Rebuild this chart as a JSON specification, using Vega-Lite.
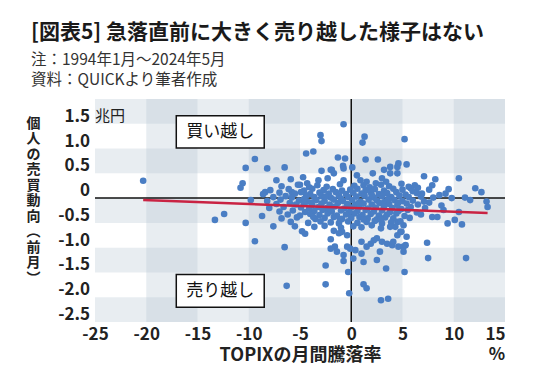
{
  "$schema": "https://vega.github.io/schema/vega-lite/v6.json",
  "width": 410,
  "height": 223,
  "autosize": "none",
  "padding": {"left": 95, "top": 99, "right": 35, "bottom": 61},
  "background": "white",
  "config": {
    "font": "Noto Sans CJK JP",
    "view": {"stroke": null}
  },
  "title": {
    "text": "[図表5] 急落直前に大きく売り越した様子はない",
    "subtitle": ["注：1994年1月～2024年5月", "資料：QUICKより筆者作成"],
    "anchor": "start",
    "frame": "group",
    "dx": -64,
    "offset": 10,
    "fontSize": 21,
    "fontWeight": "bold",
    "color": "#1a1a1a",
    "subtitleFontSize": 15.5,
    "subtitleColor": "#333333",
    "subtitleLineHeight": 20,
    "subtitlePadding": 10
  },
  "datasets": {
    "bands": [
      {"x1": -20, "x2": -15, "y1": -2.5, "y2": 2},
      {"x1": -10, "x2": -5, "y1": -2.5, "y2": 2},
      {"x1": 0, "x2": 5, "y1": -2.5, "y2": 2},
      {"x1": 10, "x2": 15, "y1": -2.5, "y2": 2},
      {"x1": -25, "x2": 15, "y1": 1.5, "y2": 2},
      {"x1": -25, "x2": 15, "y1": 0.5, "y2": 1},
      {"x1": -25, "x2": 15, "y1": -0.5, "y2": 0},
      {"x1": -25, "x2": 15, "y1": -1.5, "y2": -1},
      {"x1": -25, "x2": 15, "y1": -2.5, "y2": -2}
    ],
    "ylabels": [
      {"v": 1.5, "l": "1.5"}, {"v": 1, "l": "1.0"}, {"v": 0.5, "l": "0.5"}, {"v": 0, "l": "0"},
      {"v": -0.5, "l": "-0.5"}, {"v": -1, "l": "-1.0"}, {"v": -1.5, "l": "-1.5"}, {"v": -2, "l": "-2.0"}, {"v": -2.5, "l": "-2.5"}
    ],
    "notes": [
      {"x1": -17.07, "x2": -8.49, "y1": 1.66, "y2": 1.01, "xm": -12.78, "ym": 1.335, "label": "買い越し"},
      {"x1": -17.07, "x2": -8.49, "y1": -1.54, "y2": -2.2, "xm": -12.78, "ym": -1.87, "label": "売り越し"}
    ],
    "trend": [
      {"x": -20.3, "y": -0.04},
      {"x": 13.3, "y": -0.3}
    ],
    "points": [
      {"x": -20.3, "y": 0.35},
      {"x": -13.3, "y": -0.44}, {"x": -12.4, "y": -0.32}, {"x": -10.3, "y": -0.5}, {"x": -9.4, "y": -0.87}, {"x": -6.5, "y": -0.99}, {"x": -6.3, "y": -1.77}, {"x": -2.5, "y": -1.74}, {"x": -2.5, "y": -1.36},
      {"x": -10.3, "y": 0.61}, {"x": -9.4, "y": 0.79}, {"x": -8.2, "y": 0.6}, {"x": -6.5, "y": 0.62}, {"x": -7.3, "y": 0.36}, {"x": -5.9, "y": 0.38}, {"x": -4.7, "y": 0.42}, {"x": -10.6, "y": 0.3}, {"x": -10.8, "y": 0.21}, {"x": -8.4, "y": 0.12}, {"x": -5.8, "y": 0.12}, {"x": -9.8, "y": -0.04},
      {"x": -3.0, "y": 1.27}, {"x": -2.9, "y": 1.15}, {"x": -4.4, "y": 0.9}, {"x": -3.7, "y": 0.94}, {"x": -2.9, "y": 0.55}, {"x": -2.0, "y": 0.57},
      {"x": -8.7, "y": -0.36}, {"x": -7.6, "y": -0.57}, {"x": -5.5, "y": -0.57}, {"x": -4.8, "y": -0.67}, {"x": -4.5, "y": -0.72},
      {"x": -2.0, "y": -0.83}, {"x": -1.6, "y": -0.98}, {"x": -1.7, "y": -0.66}, {"x": -0.9, "y": -0.68}, {"x": -0.4, "y": -0.75}, {"x": -1.2, "y": -0.71},
      {"x": -2.0, "y": -1.02}, {"x": -1.4, "y": -1.08}, {"x": -0.75, "y": -1.15}, {"x": -0.1, "y": -1.02}, {"x": 0.2, "y": -1.22}, {"x": -0.75, "y": -1.27}, {"x": -0.4, "y": -0.98},
      {"x": -0.3, "y": -1.49}, {"x": -0.2, "y": -1.92},
      {"x": -0.75, "y": 1.49}, {"x": 1.3, "y": 1.24}, {"x": 1.1, "y": 1.12}, {"x": -1.3, "y": 0.82}, {"x": -0.6, "y": 0.8}, {"x": 1.4, "y": 0.78}, {"x": 2.6, "y": 0.78},
      {"x": 3.8, "y": 0.63}, {"x": 4.5, "y": 0.63}, {"x": 3.2, "y": 0.57}, {"x": 3.8, "y": 0.5}, {"x": 4.5, "y": 0.5},
      {"x": -0.8, "y": 0.65}, {"x": -1.9, "y": 0.57}, {"x": -1.7, "y": 0.5}, {"x": -0.75, "y": 0.6}, {"x": -0.75, "y": 0.36}, {"x": 0.55, "y": 0.46}, {"x": 0.9, "y": 0.36}, {"x": 1.2, "y": 0.26},
      {"x": 5.2, "y": 1.19}, {"x": 5.4, "y": 0.68}, {"x": 4.6, "y": 0.7},
      {"x": 7.1, "y": 0.44}, {"x": 8.2, "y": 0.38}, {"x": 7.9, "y": 0.26}, {"x": 10.5, "y": 0.4}, {"x": 6.2, "y": 0.26}, {"x": 5.8, "y": 0.2}, {"x": 9.5, "y": 0.18}, {"x": 9.2, "y": 0.09}, {"x": 12.1, "y": 0.2}, {"x": 12.7, "y": 0.12}, {"x": 11.1, "y": 0.01}, {"x": 11.6, "y": -0.04}, {"x": 13.2, "y": -0.07}, {"x": 13.3, "y": -0.18}, {"x": 8.0, "y": 0.01}, {"x": 6.9, "y": 0.09}, {"x": 7.1, "y": -0.07}, {"x": 9.0, "y": -0.24}, {"x": 10.5, "y": -0.28}, {"x": 7.9, "y": -0.38}, {"x": 8.4, "y": -0.38}, {"x": 9.4, "y": -0.51}, {"x": 10.1, "y": -0.44}, {"x": 10.8, "y": -0.53}, {"x": 7.4, "y": -0.9}, {"x": 7.5, "y": -1.21}, {"x": 11.2, "y": -1.21}, {"x": 5.2, "y": -1.49},
      {"x": 1.0, "y": -0.88}, {"x": 1.9, "y": -0.92}, {"x": 2.5, "y": -0.81}, {"x": 3.0, "y": -0.88}, {"x": 3.5, "y": -0.92}, {"x": 1.0, "y": -1.12}, {"x": 1.2, "y": -1.29}, {"x": 2.5, "y": -1.25}, {"x": 2.8, "y": -1.08}, {"x": 3.4, "y": -1.42}, {"x": 1.2, "y": -1.74}, {"x": 1.5, "y": -1.82}, {"x": 2.9, "y": -2.06}, {"x": 3.6, "y": -2.03},
      {"x": 4.5, "y": -0.48}, {"x": 5.1, "y": -0.55}, {"x": 4.8, "y": -0.68}, {"x": 5.4, "y": -0.78}, {"x": 5.1, "y": -0.98}, {"x": 5.1, "y": -1.08}, {"x": 4.0, "y": -0.95}, {"x": 4.5, "y": -0.75},
      {"x": 0.4, "y": -1.05}, {"x": 1.5, "y": -0.98}, {"x": 2.2, "y": -0.85}, {"x": 4.3, "y": -0.58}, {"x": 4.9, "y": -0.68}, {"x": 5.3, "y": -0.95}, {"x": 4.6, "y": -0.98}, {"x": 4.1, "y": -0.88},
      {"x": -4.3, "y": 0.3}, {"x": -5.0, "y": 0.27}, {"x": -3.2, "y": 0.36}, {"x": -2.3, "y": 0.4}, {"x": 0.1, "y": 0.62}, {"x": 2.1, "y": 0.5}, {"x": 3.0, "y": 0.4}, {"x": 2.4, "y": 0.3},
      {"x": -6.8, "y": 0.24}, {"x": -5.2, "y": 0.27}, {"x": -4.1, "y": 0.22}, {"x": -3.3, "y": 0.26}, {"x": -2.4, "y": 0.23}, {"x": -1.1, "y": 0.28}, {"x": 0.3, "y": 0.25}, {"x": 1.8, "y": 0.22}, {"x": 2.9, "y": 0.27}, {"x": 3.7, "y": 0.24}, {"x": 4.9, "y": 0.29}, {"x": 5.6, "y": 0.23}, {"x": 6.5, "y": 0.21},
      {"x": -7.9, "y": 0.16}, {"x": -6.1, "y": 0.18}, {"x": -4.6, "y": 0.15}, {"x": -3.8, "y": 0.19}, {"x": -2.7, "y": 0.16}, {"x": -1.8, "y": 0.18}, {"x": -0.9, "y": 0.15}, {"x": 0.6, "y": 0.19}, {"x": 1.4, "y": 0.16}, {"x": 2.3, "y": 0.18}, {"x": 3.2, "y": 0.15}, {"x": 4.1, "y": 0.19}, {"x": 5.0, "y": 0.17}, {"x": 6.0, "y": 0.14}, {"x": 7.6, "y": 0.17},
      {"x": -8.6, "y": 0.08}, {"x": -7.0, "y": 0.11}, {"x": -5.5, "y": 0.09}, {"x": -4.9, "y": 0.12}, {"x": -4.0, "y": 0.08}, {"x": -3.1, "y": 0.11}, {"x": -2.2, "y": 0.09}, {"x": -1.5, "y": 0.12}, {"x": -0.5, "y": 0.08}, {"x": 0.2, "y": 0.11}, {"x": 1.0, "y": 0.09}, {"x": 1.9, "y": 0.12}, {"x": 2.7, "y": 0.08}, {"x": 3.5, "y": 0.1}, {"x": 4.4, "y": 0.12}, {"x": 5.3, "y": 0.07}, {"x": 6.4, "y": 0.1}, {"x": 8.6, "y": 0.06},
      {"x": -7.6, "y": 0.02}, {"x": -6.4, "y": 0.04}, {"x": -5.8, "y": 0.01}, {"x": -4.4, "y": 0.05}, {"x": -3.6, "y": 0.02}, {"x": -2.9, "y": 0.04}, {"x": -2.0, "y": 0.01}, {"x": -1.2, "y": 0.05}, {"x": -0.3, "y": 0.02}, {"x": 0.5, "y": 0.03}, {"x": 1.3, "y": 0.05}, {"x": 2.2, "y": 0.01}, {"x": 3.0, "y": 0.04}, {"x": 3.9, "y": 0.02}, {"x": 4.7, "y": 0.05}, {"x": 5.6, "y": 0.02}, {"x": 6.8, "y": 0.03}, {"x": 9.8, "y": 0.0},
      {"x": -8.2, "y": -0.06}, {"x": -6.9, "y": -0.03}, {"x": -5.1, "y": -0.05}, {"x": -4.3, "y": -0.07}, {"x": -3.4, "y": -0.04}, {"x": -2.6, "y": -0.06}, {"x": -1.7, "y": -0.03}, {"x": -0.8, "y": -0.06}, {"x": 0.1, "y": -0.04}, {"x": 0.9, "y": -0.07}, {"x": 1.7, "y": -0.03}, {"x": 2.5, "y": -0.05}, {"x": 3.3, "y": -0.07}, {"x": 4.2, "y": -0.04}, {"x": 5.0, "y": -0.06}, {"x": 6.0, "y": -0.05}, {"x": 7.6, "y": -0.09},
      {"x": -7.3, "y": -0.12}, {"x": -6.0, "y": -0.1}, {"x": -5.4, "y": -0.13}, {"x": -4.6, "y": -0.11}, {"x": -3.8, "y": -0.14}, {"x": -2.9, "y": -0.11}, {"x": -2.1, "y": -0.13}, {"x": -1.3, "y": -0.1}, {"x": -0.4, "y": -0.12}, {"x": 0.4, "y": -0.14}, {"x": 1.2, "y": -0.11}, {"x": 2.0, "y": -0.13}, {"x": 2.8, "y": -0.1}, {"x": 3.7, "y": -0.12}, {"x": 4.5, "y": -0.14}, {"x": 5.4, "y": -0.11}, {"x": 6.5, "y": -0.13}, {"x": 8.8, "y": -0.15},
      {"x": -8.0, "y": -0.2}, {"x": -6.6, "y": -0.18}, {"x": -4.9, "y": -0.19}, {"x": -4.1, "y": -0.21}, {"x": -3.2, "y": -0.18}, {"x": -2.4, "y": -0.2}, {"x": -1.6, "y": -0.17}, {"x": -0.7, "y": -0.21}, {"x": 0.0, "y": -0.19}, {"x": 0.8, "y": -0.18}, {"x": 1.6, "y": -0.21}, {"x": 2.4, "y": -0.19}, {"x": 3.2, "y": -0.17}, {"x": 4.0, "y": -0.2}, {"x": 4.9, "y": -0.22}, {"x": 5.8, "y": -0.18}, {"x": 7.2, "y": -0.2},
      {"x": -7.0, "y": -0.27}, {"x": -5.7, "y": -0.25}, {"x": -4.5, "y": -0.28}, {"x": -3.6, "y": -0.26}, {"x": -2.8, "y": -0.24}, {"x": -1.9, "y": -0.27}, {"x": -1.0, "y": -0.25}, {"x": -0.2, "y": -0.28}, {"x": 0.6, "y": -0.26}, {"x": 1.4, "y": -0.24}, {"x": 2.2, "y": -0.27}, {"x": 3.0, "y": -0.25}, {"x": 3.8, "y": -0.28}, {"x": 4.6, "y": -0.26}, {"x": 5.5, "y": -0.24}, {"x": 6.4, "y": -0.29},
      {"x": -6.2, "y": -0.33}, {"x": -5.0, "y": -0.35}, {"x": -4.0, "y": -0.32}, {"x": -3.1, "y": -0.34}, {"x": -2.3, "y": -0.31}, {"x": -1.4, "y": -0.35}, {"x": -0.5, "y": -0.33}, {"x": 0.3, "y": -0.31}, {"x": 1.1, "y": -0.34}, {"x": 1.9, "y": -0.32}, {"x": 2.7, "y": -0.35}, {"x": 3.5, "y": -0.33}, {"x": 4.4, "y": -0.31}, {"x": 5.2, "y": -0.36}, {"x": 6.8, "y": -0.33},
      {"x": -6.8, "y": -0.41}, {"x": -5.3, "y": -0.39}, {"x": -3.5, "y": -0.42}, {"x": -2.6, "y": -0.4}, {"x": -1.7, "y": -0.38}, {"x": -0.9, "y": -0.42}, {"x": 0.0, "y": -0.4}, {"x": 0.8, "y": -0.38}, {"x": 1.6, "y": -0.41}, {"x": 2.5, "y": -0.43}, {"x": 3.3, "y": -0.39}, {"x": 4.1, "y": -0.41}, {"x": 5.7, "y": -0.4},
      {"x": -5.9, "y": -0.48}, {"x": -4.2, "y": -0.5}, {"x": -3.0, "y": -0.47}, {"x": -2.0, "y": -0.49}, {"x": -1.2, "y": -0.51}, {"x": -0.3, "y": -0.47}, {"x": 0.6, "y": -0.5}, {"x": 1.5, "y": -0.48}, {"x": 2.3, "y": -0.46}, {"x": 3.0, "y": -0.51}, {"x": 3.9, "y": -0.49}, {"x": 4.8, "y": -0.47},
      {"x": -3.6, "y": -0.58}, {"x": -2.6, "y": -0.56}, {"x": -1.0, "y": -0.6}, {"x": 0.2, "y": -0.57}, {"x": 1.0, "y": -0.59}, {"x": 2.0, "y": -0.55}, {"x": 2.9, "y": -0.61}, {"x": 3.8, "y": -0.58},
      {"x": -4.6, "y": -0.02}, {"x": -3.9, "y": -0.09}, {"x": -2.5, "y": 0.03}, {"x": -1.0, "y": -0.01}, {"x": 0.7, "y": -0.1}, {"x": 2.0, "y": 0.06}, {"x": 3.6, "y": -0.02}, {"x": 4.6, "y": -0.09}, {"x": 1.5, "y": 0.33}, {"x": 3.4, "y": 0.33}, {"x": -3.7, "y": -0.38}, {"x": -1.1, "y": -0.44}, {"x": 1.2, "y": -0.43}, {"x": 2.9, "y": -0.43}, {"x": -0.1, "y": 0.17}, {"x": -2.0, "y": -0.23}
    ]
  },
  "layer": [
    {
      "data": {"name": "bands"},
      "mark": {"type": "rect", "fill": "#b4c2d1", "opacity": 0.3},
      "encoding": {
        "x": {
          "field": "x1", "type": "quantitative",
          "scale": {"domain": [-25, 15], "nice": false, "zero": false},
          "axis": {
            "values": [-25, -20, -15, -10, -5, 0, 5, 10, 15],
            "labelExpr": "replace(format(datum.value, 'd'), '−', '-')",
            "labelFontSize": 17, "labelFontWeight": "bold", "labelColor": "#222222",
            "labelPadding": 4, "labelOverlap": false,
            "labelAlign": {"condition": {"test": "datum.value == 15", "value": "right"}, "value": "center"},
            "labelFlush": false,
            "ticks": false, "domain": false, "grid": false,
            "title": "TOPIXの月間騰落率",
            "titleFontSize": 18, "titleFontWeight": "bold", "titleColor": "#222222",
            "titlePadding": 4
          }
        },
        "x2": {"field": "x2"},
        "y": {
          "field": "y1", "type": "quantitative",
          "scale": {"domain": [-2.5, 2], "nice": false, "zero": false},
          "axis": {
            "values": [-2.5, -2, -1.5, -1, -0.5, 0, 0.5, 1, 1.5],
            "labels": false,
            "ticks": false, "domain": false, "grid": false,
            "title": ["個", "人", "の", "売", "買", "動", "向", "︵", "前", "月", "︶"],
            "titleAngle": 0, "titleFontSize": 14, "titleFontWeight": "bold", "titleColor": "#222222",
            "titleLineHeight": 15.5, "titleAlign": "center", "titleBaseline": "top",
            "titleX": -62, "titleY": 17
          }
        },
        "y2": {"field": "y2"}
      }
    },
    {
      "data": {"values": [{}]},
      "mark": {"type": "rule", "color": "#111111", "strokeWidth": 1.5},
      "encoding": {"y": {"datum": 0, "type": "quantitative"}}
    },
    {
      "data": {"values": [{}]},
      "mark": {"type": "rule", "color": "#111111", "strokeWidth": 1.5},
      "encoding": {"x": {"datum": 0, "type": "quantitative"}}
    },
    {
      "data": {"name": "points"},
      "mark": {"type": "circle", "size": 44, "color": "#4a7ec4", "opacity": 1},
      "encoding": {
        "x": {"field": "x", "type": "quantitative"},
        "y": {"field": "y", "type": "quantitative"}
      }
    },
    {
      "data": {"name": "trend"},
      "mark": {"type": "line", "color": "#c92343", "strokeWidth": 2.5},
      "encoding": {
        "x": {"field": "x", "type": "quantitative"},
        "y": {"field": "y", "type": "quantitative"}
      }
    },
    {
      "data": {"name": "notes"},
      "mark": {"type": "rect", "fill": "white", "stroke": "#111111", "strokeWidth": 1.5},
      "encoding": {
        "x": {"field": "x1", "type": "quantitative"},
        "x2": {"field": "x2"},
        "y": {"field": "y1", "type": "quantitative"},
        "y2": {"field": "y2"}
      }
    },
    {
      "data": {"name": "notes"},
      "mark": {"type": "text", "fontSize": 17, "color": "#111111", "align": "center", "baseline": "middle"},
      "encoding": {
        "x": {"field": "xm", "type": "quantitative"},
        "y": {"field": "ym", "type": "quantitative"},
        "text": {"field": "label"}
      }
    },
    {
      "data": {"name": "ylabels"},
      "mark": {"type": "text", "fontSize": 17, "fontWeight": "bold", "color": "#222222", "align": "right", "baseline": "alphabetic", "dx": -5, "dy": -2},
      "encoding": {
        "x": {"datum": -25, "type": "quantitative"},
        "y": {"field": "v", "type": "quantitative"},
        "text": {"field": "l"}
      }
    },
    {
      "data": {"values": [{"t": "兆円"}]},
      "mark": {"type": "text", "fontSize": 15, "color": "#222222", "align": "left", "baseline": "alphabetic", "dy": -3},
      "encoding": {
        "x": {"datum": -25, "type": "quantitative"},
        "y": {"datum": 1.5, "type": "quantitative"},
        "text": {"field": "t"}
      }
    },
    {
      "data": {"values": [{"t": "%"}]},
      "mark": {"type": "text", "fontSize": 17, "fontWeight": "bold", "color": "#222222", "align": "right", "baseline": "middle", "dy": 33},
      "encoding": {
        "x": {"datum": 15, "type": "quantitative"},
        "y": {"datum": -2.5, "type": "quantitative"},
        "text": {"field": "t"}
      }
    }
  ]
}
